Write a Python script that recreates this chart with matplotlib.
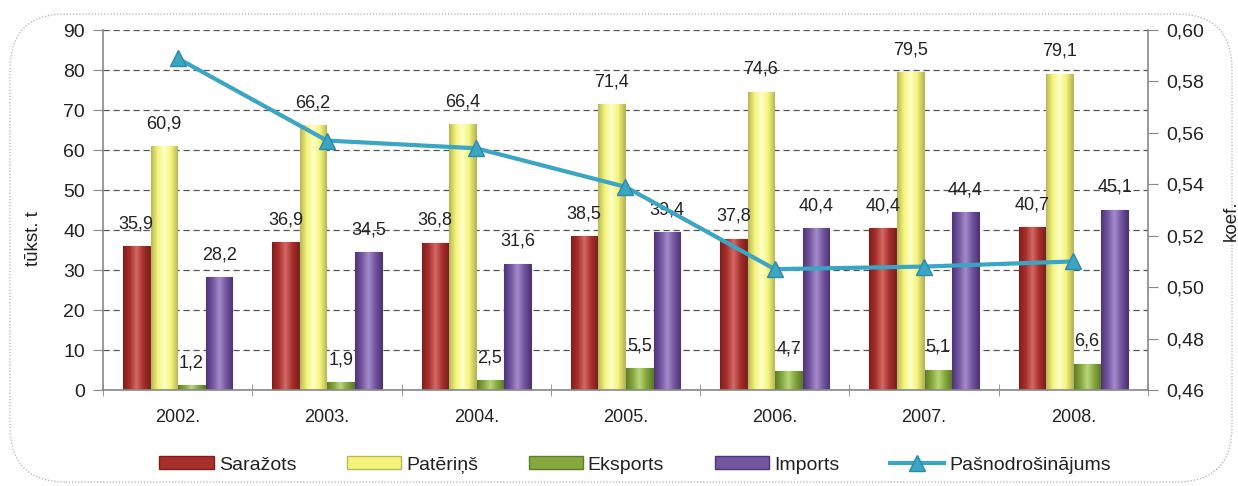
import matplotlib
matplotlib.use("Agg")
import matplotlib.pyplot as plt
import numpy as np
from matplotlib.colors import LinearSegmentedColormap
from matplotlib.patches import FancyBboxPatch, Rectangle
from matplotlib.lines import Line2D

plt.rcParams['font.family'] = ['Liberation Sans', 'DejaVu Sans']

years = ['2002.', '2003.', '2004.', '2005.', '2006.', '2007.', '2008.']
sarazots = [35.9, 36.9, 36.8, 38.5, 37.8, 40.4, 40.7]
paterins = [60.9, 66.2, 66.4, 71.4, 74.6, 79.5, 79.1]
eksports = [1.2, 1.9, 2.5, 5.5, 4.7, 5.1, 6.6]
imports_ = [28.2, 34.5, 31.6, 39.4, 40.4, 44.4, 45.1]
pasnodr = [0.589, 0.557, 0.554, 0.539, 0.507, 0.508, 0.510]

series_names = ['Saražots', 'Patēriņš', 'Eksports', 'Imports']
line_name = 'Pašnodrošinājums'
left_ticks = [0, 10, 20, 30, 40, 50, 60, 70, 80, 90]
right_ticks = [0.46, 0.48, 0.50, 0.52, 0.54, 0.56, 0.58, 0.60]

# (dark edge, mid, highlight)
bar_colors = [
    ('#7E1F1C', '#A8302C', '#D46A66'),
    ('#B8B85A', '#F4F47C', '#FFFFC8'),
    ('#5F7D25', '#86A83E', '#B8D77A'),
    ('#4E3574', '#7356A0', '#A58CCB'),
]
line_color = '#3AA6C3'
text_color = '#222222'

fig = plt.figure(figsize=(12.38, 4.86), dpi=100)
fig.patch.set_facecolor('white')

# rounded dotted frame
frame = FancyBboxPatch((10 / 1238, 4 / 486), 1222 / 1238, 468 / 486,
                       boxstyle="round,pad=0,rounding_size=0.045",
                       transform=fig.transFigure, fill=False,
                       edgecolor='#B0B0B0', linestyle=(0, (1, 1.5)), linewidth=0.9,
                       mutation_aspect=1238 / 486)
fig.patches.append(frame)

ax = fig.add_axes([103 / 1238, 1 - 390 / 486, (1148 - 103) / 1238, 360 / 486])
ax2 = ax.twinx()

x = np.arange(len(years))
w = 0.178
step = 0.185
all_series = [sarazots, paterins, eksports, imports_]

for i, (vals, cols) in enumerate(zip(all_series, bar_colors)):
    off = (i - 1.5) * step
    bars = ax.bar(x + off, vals, width=w, color=cols[1], edgecolor=cols[0],
                  linewidth=0.8, zorder=2)
    cmap = LinearSegmentedColormap.from_list('g', [cols[0], cols[1], cols[2], cols[1], cols[0]])
    grad = cmap(np.linspace(0, 1, 64))[None, :, :]
    for b in bars:
        bx, by, bw, bh = b.get_x(), b.get_y(), b.get_width(), b.get_height()
        im = ax.imshow(grad, extent=(bx, bx + bw, by, by + bh), aspect='auto',
                       zorder=2.1, interpolation='bilinear')
        im.set_clip_path(b)
    for xi, v in zip(x + off, vals):
        ax.annotate(f"{v:.1f}".replace('.', ','), (xi, v), xytext=(0, 10),
                    textcoords='offset points', ha='center', va='bottom',
                    fontsize=13, color=text_color, zorder=5)

ax.set_xlim(-0.5, len(years) - 0.5)
ax.set_ylim(0, 90)
ax.set_yticks(left_ticks)
ax.set_yticklabels([str(t) for t in left_ticks], fontsize=14, color=text_color)
ax.set_xticks(x)
ax.set_xticklabels(years, fontsize=13, color=text_color)
ax.set_xticks(np.arange(-0.5, len(years), 1.0), minor=True)
ax.tick_params(axis='x', which='major', length=0, pad=14)
ax.tick_params(axis='x', which='minor', length=8, color='#888888', direction='inout')
ax.tick_params(axis='y', length=7, color='#888888', direction='out', pad=6)
ax.yaxis.grid(True, linestyle=(0, (5, 3)), color='#555555', linewidth=0.9, zorder=0)
ax.set_axisbelow(True)
for s in ['top', 'right']:
    ax.spines[s].set_visible(False)
for s in ['left', 'bottom']:
    ax.spines[s].set_color('#888888')
    ax.spines[s].set_linewidth(1.2)
ax.set_ylabel('tūkst. t', fontsize=13.5, color=text_color)
ax.yaxis.set_label_coords(-0.058, 0.42)

ax2.plot(x, pasnodr, color=line_color, linewidth=3.0, marker='^', markersize=11,
         markerfacecolor=line_color, markeredgecolor='#2A8AA8', zorder=6)
ax2.set_ylim(0.46, 0.60)
ax2.set_yticks(right_ticks)
ax2.set_yticklabels([f"{t:.2f}".replace('.', ',') for t in right_ticks], fontsize=14,
                    color=text_color)
ax2.tick_params(axis='y', length=7, color='#888888', direction='out', pad=6)
for s in ['top', 'left', 'bottom']:
    ax2.spines[s].set_visible(False)
ax2.spines['right'].set_color('#888888')
ax2.spines['right'].set_linewidth(1.2)
ax2.set_ylabel('koef.', fontsize=13.5, color=text_color)
ax2.yaxis.set_label_coords(1.072, 0.47)
ax.set_zorder(1)
ax2.set_zorder(2)
ax2.patch.set_visible(False)

handles = [Rectangle((0, 0), 1, 1, facecolor=c[1], edgecolor=c[0], linewidth=1.0)
           for c in bar_colors]
handles.append(Line2D([0], [0], color=line_color, linewidth=3.0, marker='^',
                      markersize=11, markerfacecolor=line_color, markeredgecolor='#2A8AA8'))
leg = fig.legend(handles, series_names + [line_name], loc='center', ncol=5,
                 bbox_to_anchor=(0.513, 1 - 465 / 486), frameon=False, fontsize=14,
                 handlelength=2.8, handleheight=0.6, handletextpad=0.25,
                 columnspacing=2.6)
for t in leg.get_texts():
    t.set_color(text_color)

fig.savefig('out.png', dpi=100)
